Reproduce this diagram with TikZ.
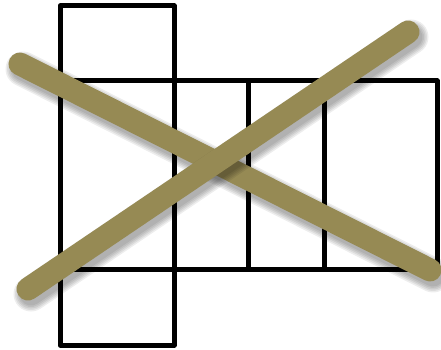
\documentclass[tikz,border=0pt]{standalone}
\usetikzlibrary{calc}
\definecolor{crossolive}{RGB}{150,138,84}
\tikzset{
  netline/.style={
    draw=black,
    line width=5pt,
    line join=round
  },
  crossbar/.style={
    draw=crossolive,
    line width=23pt,
    line cap=round
  },
  crossshade/.style={
    draw=black,
    line cap=round,
    opacity=0.07
  }
}

\begin{document}
\begin{tikzpicture}[x=1pt,y=-1pt]
  \useasboundingbox (0,0) rectangle (441,350);
  % unfolded box
  \draw[netline] (60,6) rectangle (174,81);
  \draw[netline] (60,81) rectangle (437,269);
  \draw[netline] (60,269) rectangle (174,345);
  \foreach \x in {174,248,324}
    \draw[netline] (\x,81) -- (\x,269);
  % the cross
  \coordinate (a1) at (20,64);
  \coordinate (a2) at (430,270);
  \coordinate (b1) at (28,289);
  \coordinate (b2) at (408,32);
  \foreach \w in {35,32,29,26,23}
    \draw[crossshade, line width=\w pt] ($(a1)+(3,5)$) -- ($(a2)+(3,5)$);
  \draw[crossbar] (a1) -- (a2);
  \foreach \w in {35,32,29,26,23}
    \draw[crossshade, line width=\w pt] ($(b1)+(3,5)$) -- ($(b2)+(3,5)$);
  \draw[crossbar] (b1) -- (b2);
\end{tikzpicture}
\end{document}
